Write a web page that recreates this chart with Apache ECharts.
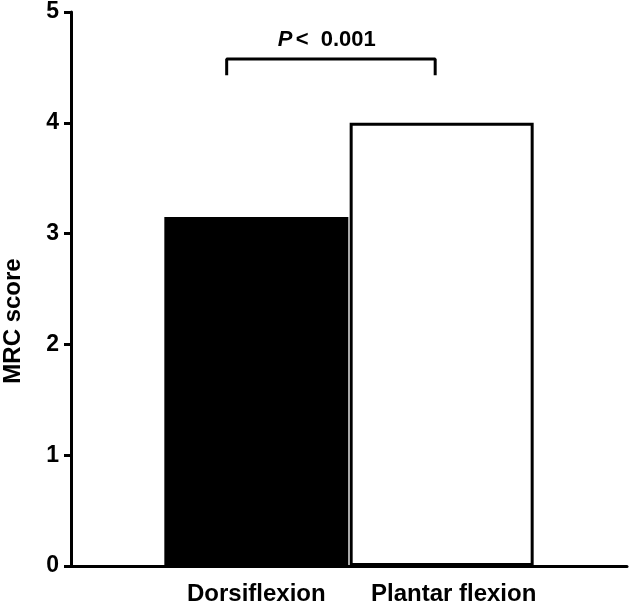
<!DOCTYPE html>
<html>
<head>
<meta charset="utf-8">
<script src="https://cdn.jsdelivr.net/npm/echarts@6.0.0/dist/echarts.min.js"></script>
<style>
  html, body { margin: 0; padding: 0; background: #fff; }
  #chart { width: 630px; height: 611px; }
</style>
</head>
<body>
<div id="chart"></div>
<script>
// categories and values
var categories = ['Dorsiflexion', 'Plantar flexion'];
var positions = [1, 2];
var mrcScores = [3.15, 4.0];
var yTicks = [0, 1, 2, 3, 4, 5];
// significance bracket (x in bar units, y in score units)
var bracketX = [0.84, 1.965];
var bracketY = [4.43, 4.575];
var pLabel = { x: 1.38, y: 4.75, text: '0.001' };

var font = 'Liberation Sans, Arial, sans-serif';

var barData = positions.map(function (x, i) {
    return {
        value: [x, mrcScores[i]],
        itemStyle: {
            color: i === 0 ? '#000' : '#fff',
            borderColor: '#000',
            borderWidth: 3
        }
    };
});

var bracketData = [
    [bracketX[0], bracketY[0]],
    [bracketX[0], bracketY[1]],
    [bracketX[1], bracketY[1]],
    [bracketX[1], bracketY[0]]
];

var myChart = echarts.init(document.getElementById('chart'));
myChart.setOption({
    animation: false,
    backgroundColor: '#fff',
    grid: { left: 71, right: 3, top: 12, bottom: 45, outerBoundsMode: 'none' },
    xAxis: {
        type: 'value',
        min: 0,
        max: 3,
        interval: 1,
        splitLine: { show: false },
        axisTick: { show: false },
        axisLine: { lineStyle: { color: '#000', width: 3 } },
        axisLabel: {
            margin: 16,
            formatter: function (v) {
                var name = categories[positions.indexOf(v)];
                if (!name) return '';
                return v === 2 ? '{b|' + name + '}' : '{a|' + name + '}';
            },
            rich: {
                a: { fontFamily: font, fontWeight: 'bold', fontSize: 24, color: '#000' },
                b: { fontFamily: font, fontWeight: 'bold', fontSize: 24, color: '#000', padding: [0, 0, 0, 24] }
            }
        }
    },
    yAxis: {
        type: 'value',
        min: yTicks[0],
        max: yTicks[yTicks.length - 1],
        interval: 1,
        name: 'MRC score',
        nameLocation: 'middle',
        nameRotate: 90,
        nameGap: 46,
        nameTextStyle: {
            fontFamily: font, fontWeight: 'bold', fontSize: 24, color: '#000',
            padding: [0, 64, 0, 0]
        },
        splitLine: { show: false },
        axisLine: { show: true, lineStyle: { color: '#000', width: 3 } },
        axisTick: { show: true, length: 7, lineStyle: { color: '#000', width: 3 } },
        axisLabel: { margin: 12, fontFamily: font, fontWeight: 'bold', fontSize: 23, color: '#000' }
    },
    series: [
        {
            type: 'bar',
            barWidth: 184,
            data: barData
        },
        {
            type: 'line',
            data: bracketData,
            symbol: 'none',
            lineStyle: { color: '#000', width: 3 },
            z: 5
        },
        {
            type: 'scatter',
            symbolSize: 0,
            itemStyle: { opacity: 1 },
            data: [[pLabel.x, pLabel.y]],
            label: {
                show: true,
                position: 'inside',
                formatter: '{p|P} {t|<  ' + pLabel.text + '}',
                rich: {
                    p: { fontFamily: font, fontWeight: 'bold', fontStyle: 'italic', fontSize: 22, color: '#000' },
                    t: { fontFamily: font, fontWeight: 'bold', fontSize: 22, color: '#000' }
                }
            }
        }
    ]
});
</script>
</body>
</html>
